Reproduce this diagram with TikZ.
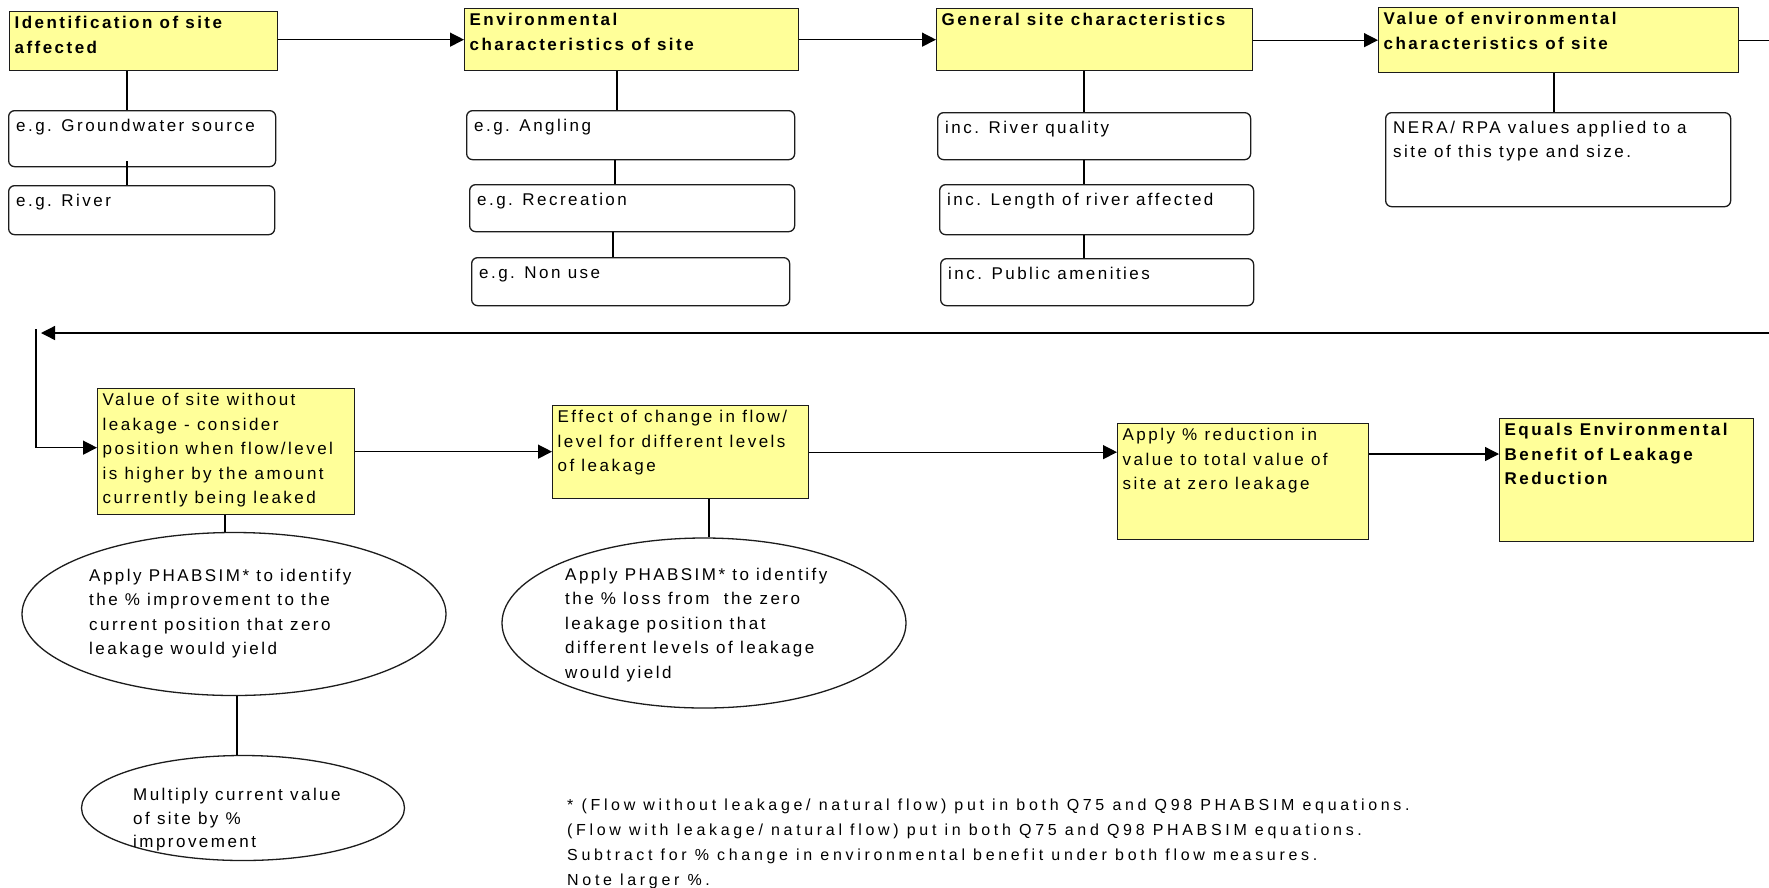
\documentclass[tikz,border=0pt]{standalone}
\usepackage{fontspec}
\setmainfont{Liberation Sans}[LetterSpace=14.5]
\usetikzlibrary{arrows.meta,shapes.geometric}

\definecolor{boxyellow}{HTML}{FFFF99}
\definecolor{edgegrey}{HTML}{1C1C1C}

% text block of a box: fixed inner size, lines set from the top left
\newcommand\boxlines[3]{\parbox[c][#2pt][t]{#1pt}{\begin{tabular}[t]{@{}l@{}}#3\end{tabular}}}
\newcommand\freelines[1]{\begin{tabular}{@{}l@{}}#1\end{tabular}}

\begin{document}
\begin{tikzpicture}[x=1pt,y=-1pt,
  font=\fontsize{17pt}{24.5pt}\selectfont,
  ybox/.style={draw=edgegrey, line width=1.3pt, fill=boxyellow, anchor=north west,
               inner xsep=5pt, inner ysep=0pt},
  heading/.style={font=\fontsize{17pt}{24.5pt}\selectfont\bfseries},
  rbox/.style={draw=edgegrey, line width=1.3pt, fill=white, rounded corners=6pt,
               anchor=north west, inner xsep=7.5pt, inner ysep=3.5pt},
  oval/.style={draw=edgegrey, line width=1.3pt, ellipse, inner sep=0pt},
  ptext/.style={anchor=north west, inner sep=0pt},
  link/.style={draw=black, line width=1.3pt},
  arr/.style={link, -{Triangle[length=14pt,width=14pt]}}]

\fill[white] (0,0) rectangle (1769,887);
\useasboundingbox (0,0) rectangle (1769,887);

% ---------- top row ----------
\node[ybox,heading] (b1) at (9,11)   {\boxlines{258}{59}{Identification of site\\affected}};
\node[ybox,heading] (b2) at (464,8)  {\boxlines{324}{62}{Environmental\\characteristics of site}};
\node[ybox,heading] (b3) at (936,8)  {\boxlines{306}{62}{General site characteristics}};
\node[ybox,heading] (b4) at (1378,7) {\boxlines{350}{65}{Value of environmental\\characteristics of site}};

\node[rbox] (g1) at (8,110)   {\boxlines{252}{49}{e.g. Groundwater source}};
\node[rbox] (g2) at (8,185)   {\boxlines{251}{42}{e.g. River}};

\node[rbox] (a1) at (466,110) {\boxlines{313}{42}{e.g. Angling}};
\node[rbox] (a2) at (469,184) {\boxlines{310}{40}{e.g. Recreation}};
\node[rbox] (a3) at (471,257) {\boxlines{303}{41}{e.g. Non use}};

\node[rbox] (r1) at (937,112) {\boxlines{298}{40}{inc. River quality}};
\node[rbox] (r2) at (939,184) {\boxlines{299}{43}{inc. Length of river affected}};
\node[rbox] (r3) at (940,258) {\boxlines{298}{40}{inc. Public amenities}};

\node[rbox] (n1) at (1385,112) {\boxlines{330}{87}{NERA/ RPA values applied to a\\site of this type and size.}};

% ---------- second row ----------
\node[ybox] (b5) at (97,388)   {\boxlines{247}{126}{Value of site without\\leakage - consider\\position when flow/level\\is higher by the amount\\currently being leaked}};
\node[ybox] (b6) at (552,405)  {\boxlines{246}{93}{Effect of change in flow/\\level for different levels\\of leakage}};
\node[ybox] (b7) at (1117,423) {\boxlines{241}{116}{Apply \% reduction in\\value to total value of\\site at zero leakage}};
\node[ybox,heading] (b8) at (1499,418) {\boxlines{244}{123}{Equals Environmental\\Benefit of Leakage\\Reduction}};

\node[oval, minimum width=424pt, minimum height=163pt] (e1) at (234,614) {};
\node[oval, minimum width=404pt, minimum height=170pt] (e3) at (704,623) {};
\node[oval, minimum width=323pt, minimum height=105pt] (e2) at (243,808) {};

\node[ptext] (e1t) at (89,564)  {\freelines{Apply PHABSIM* to identify\\the \% improvement to the\\current position that zero\\leakage would yield}};
\node[ptext] (e3t) at (565,563) {\freelines{Apply PHABSIM* to identify\\the \% loss from~ the zero\\leakage position that\\different levels of leakage\\would yield}};
\node[ptext, font=\fontsize{17pt}{23.6pt}\selectfont] (e2t) at (133,784)
  {\freelines{Multiply current value\\of site by \%\\improvement}};

\node[ptext, font=\fontsize{16pt}{25pt}\selectfont\addfontfeature{LetterSpace=23}] (note) at (567,792.5)
  {\freelines{* (Flow without leakage/ natural flow) put in both Q75 and Q98 PHABSIM equations.\\
   (Flow with leakage/ natural flow) put in both Q75 and Q98 PHABSIM equations.\\
   Subtract for \% change in environmental benefit under both flow measures.\\
   Note larger \%.}};

% ---------- connectors ----------
\coordinate (x1) at (127,0);
\coordinate (x2) at (617,0);
\coordinate (x2b) at (615,0);
\coordinate (x2c) at (613,0);
\coordinate (x3) at (1084,0);
\coordinate (x4) at (1554,0);
\coordinate (x5) at (225,0);
\coordinate (x6) at (709,0);
\coordinate (x7) at (237,0);

\draw[link] (b1.south -| x1) -- (g1.north -| x1);
\draw[link] (g1.south -| x1) ++(0,-6) -- (g2.north -| x1);
\draw[link] (b2.south -| x2) -- (a1.north -| x2);
\draw[link] (a1.south -| x2b) -- (a2.north -| x2b);
\draw[link] (a2.south -| x2c) -- (a3.north -| x2c);
\draw[link] (b3.south -| x3) -- (r1.north -| x3);
\draw[link] (r1.south -| x3) -- (r2.north -| x3);
\draw[link] (r2.south -| x3) -- (r3.north -| x3);
\draw[link] (b4.south -| x4) -- (n1.north -| x4);

\draw[arr] (b2.west -| b1.east) -- (b2.west);
\draw[arr] (b3.west -| b2.east) -- (b3.west);
\draw[arr] (b4.west -| b3.east) -- (b4.west);

% return path from the end of the top row to the start of the second row
\coordinate (edgeTop) at (1769,39);
\coordinate (edgeBot) at (1769,333);
\coordinate (retTip) at (41,333);
\coordinate (retTop) at (36,329);
\draw[link] (b4.east) -- (b4.east -| edgeTop);
\draw[arr] (edgeBot) -- (retTip);
\draw[arr] (retTop) |- ([yshift=4pt]b5.west);

\draw[arr] (b5.east) -- (b5.east -| b6.west);
\draw[arr] (b6.east) -- (b6.east -| b7.west);
\coordinate (y78) at (0,454);
\draw[arr] (b7.east |- y78) -- (b8.west |- y78);

\draw[link] (b5.south -| x5) -- (e1.north -| x5);
\draw[link] (e1.south -| x7) -- (e2.north -| x7);
\draw[link] (b6.south -| x6) -- (e3.north -| x6);

\end{tikzpicture}
\end{document}
